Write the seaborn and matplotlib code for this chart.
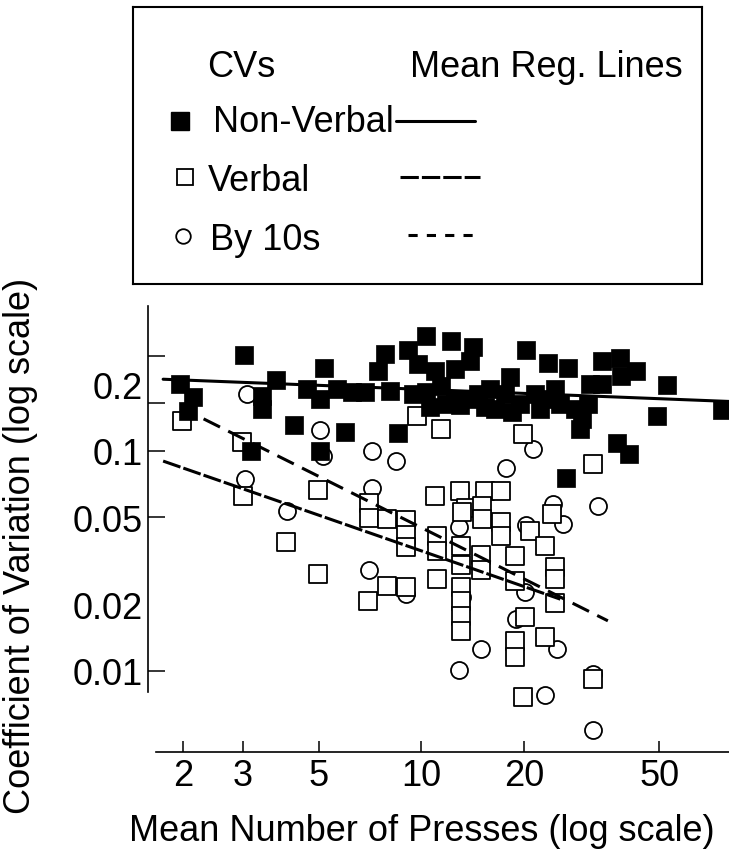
import pandas as pd
import matplotlib
matplotlib.use("Agg")
import matplotlib.pyplot as plt
from matplotlib.ticker import FixedLocator, FixedFormatter, NullLocator
import seaborn as sns

# Values (log-log CV plot)
# Non-Verbal CVs (filled squares)
nv_x = [1.96, 2.14, 2.07, 3.03, 3.16, 3.42, 3.42, 3.76, 4.25, 4.63, 5.06, 5.20, 5.06,
        5.67, 5.99, 6.28, 6.85, 7.48, 7.84, 8.11, 8.57, 9.16, 10.3, 9.8, 11.0, 12.2,
        12.6, 14.2, 13.9, 10.3, 11.4, 12.6, 13.0, 14.7, 15.9, 17.6, 18.2, 20.3, 19.5,
        21.6, 22.3, 23.6, 24.7, 25.6, 27.0, 28.3, 29.7, 31.3, 34.0, 34.0, 38.4, 42.7,
        38.6, 52.6, 49.2, 76.4, 37.6, 40.7, 26.6, 15.4, 18.5,
        9.47, 11.8, 13.9, 16.5, 23.6, 30.9, 29.3, 10.6]
nv_y = [0.202, 0.176, 0.152, 0.273, 0.100, 0.178, 0.155, 0.210, 0.131, 0.191, 0.172,
        0.238, 0.100, 0.191, 0.122, 0.185, 0.185, 0.231, 0.276, 0.187, 0.121, 0.288,
        0.333, 0.248, 0.231, 0.316, 0.236, 0.297, 0.257, 0.185, 0.197, 0.172, 0.162,
        0.182, 0.191, 0.182, 0.217, 0.288, 0.164, 0.182, 0.155, 0.251, 0.191, 0.164,
        0.238, 0.155, 0.140, 0.202, 0.257, 0.202, 0.265, 0.231, 0.219, 0.200, 0.144,
        0.153, 0.109, 0.097, 0.0754, 0.158, 0.150,
        0.182, 0.163, 0.172, 0.155, 0.172, 0.164, 0.126, 0.158]

# Verbal CVs (open squares)
vb_x = [1.99, 2.99, 3.0, 4.99, 4.02, 4.99, 9.73, 11.4, 19.9, 31.9, 11.0, 13.0, 15.4,
        17.1, 7.05, 7.05, 7.95, 9.04, 9.04, 9.04, 11.1, 11.1, 11.1, 7.0, 7.95, 9.04,
        13.5, 15.1, 15.1, 13.1, 13.1, 13.1, 13.1, 13.1, 13.1, 15.0, 15.0, 17.1, 17.1,
        18.9, 18.9, 20.9, 20.2, 18.9, 18.9, 19.9, 23.1, 24.7, 24.7, 24.7, 23.1, 24.2,
        31.9, 13.2]
vb_y = [0.137, 0.110, 0.0624, 0.0665, 0.0385, 0.0276, 0.144, 0.126, 0.119, 0.0873,
        0.0624, 0.0658, 0.0658, 0.0658, 0.058, 0.0496, 0.0491, 0.0486, 0.0415, 0.0366,
        0.0411, 0.0351, 0.0262, 0.0208, 0.0243, 0.0241, 0.0551, 0.0562, 0.0491, 0.037,
        0.0303, 0.0241, 0.0208, 0.0178, 0.0152, 0.0337, 0.0288, 0.0476, 0.0411, 0.0333,
        0.0257, 0.0433, 0.0176, 0.0137, 0.0116, 0.0076, 0.037, 0.0297, 0.0262, 0.0204,
        0.0143, 0.0518, 0.0092, 0.0528]

# By 10s CVs (open circles)
bt_x = [3.09, 5.06, 5.16, 3.05, 4.05, 7.18, 8.45, 7.18, 7.05, 9.04, 12.9, 13.2, 17.7,
        21.3, 24.4, 33.0, 26.1, 20.3, 20.2, 19.0, 15.0, 12.9, 25.1, 23.1, 31.9, 31.9]
bt_y = [0.182, 0.125, 0.095, 0.0746, 0.0534, 0.100, 0.090, 0.068, 0.0288, 0.0224,
        0.0452, 0.0217, 0.0837, 0.102, 0.0574, 0.0562, 0.0466, 0.0461, 0.0229, 0.0172,
        0.0126, 0.0101, 0.0126, 0.0078, 0.0097, 0.0054]

# mean regression lines (end points)
nv_line_x = [1.75, 80.0]
nv_line_y = [0.212, 0.168]
vb_line_x = [1.75, 25.6]
vb_line_y = [0.090, 0.0212]
bt_line_x = [2.30, 35.3]
bt_line_y = [0.140, 0.0169]

x_ticks = [2, 3, 5, 10, 20, 50]
y_ticks = [0.01, 0.05, 0.1, 0.165, 0.27]
y_tick_labels = ['0.01', '0.05', '0.1', '', '']
y_extra = [0.02, 0.2]
y_extra_labels = ['0.02', '0.2']

sns.set_theme(style="white", rc={"axes.edgecolor": "black", "text.color": "black",
                                 "axes.labelcolor": "black", "xtick.color": "black",
                                 "ytick.color": "black"})
plt.rcParams['font.family'] = ['Liberation Sans', 'DejaVu Sans']
FS = 26

fig = plt.figure(figsize=(7.29, 8.54), dpi=100)
ax = fig.add_axes([148 / 729, 101 / 854, 581 / 729, 453 / 854])

ln_style = dict(color='black', linewidth=2.2, ax=ax, legend=False)

sns.scatterplot(x=bt_x, y=bt_y, marker='o', s=150, color='white',
                edgecolor='black', linewidth=1.3, ax=ax, zorder=2)
sns.scatterplot(x=vb_x, y=vb_y, marker='s', s=160, color='white',
                edgecolor='black', linewidth=1.3, ax=ax, zorder=3)
sns.scatterplot(x=nv_x, y=nv_y, marker='s', s=175, color='black',
                edgecolor='black', linewidth=0.5, ax=ax, zorder=4)

sns.lineplot(x=nv_line_x, y=nv_line_y, linestyle='-', zorder=5, **ln_style)
sns.lineplot(x=vb_line_x, y=vb_line_y, linestyle=(0, (6, 1)), zorder=5, **ln_style)
sns.lineplot(x=bt_line_x, y=bt_line_y, linestyle=(0, (6, 3)), zorder=5, **ln_style)

ax.set_xscale('log')
ax.set_yscale('log')
ax.set_xlim(1.58, 80)
ax.set_ylim(0.00428, 0.491)

sns.despine(ax=ax)
for side in ['left', 'bottom']:
    ax.spines[side].set_linewidth(1.2)
ax.spines['left'].set_bounds(0.0080, 0.456)
ax.spines['bottom'].set_bounds(1.67, 80)

ax.xaxis.set_major_locator(FixedLocator(x_ticks))
ax.xaxis.set_major_formatter(FixedFormatter([str(t) for t in x_ticks]))
ax.xaxis.set_minor_locator(NullLocator())
ax.yaxis.set_major_locator(FixedLocator(y_ticks))
ax.yaxis.set_major_formatter(FixedFormatter(y_tick_labels))
ax.yaxis.set_minor_locator(FixedLocator(y_extra))
ax.yaxis.set_minor_formatter(FixedFormatter(y_extra_labels))

ax.tick_params(axis='x', which='major', direction='in', length=8, width=1.1,
               labelsize=FS, pad=4, bottom=True)
ax.tick_params(axis='y', which='major', direction='in', length=12, width=1.1,
               labelsize=FS, pad=4, left=True)
ax.tick_params(axis='y', which='minor', direction='in', length=0,
               labelsize=FS, pad=4, left=True)

ax.set_xlabel('Mean Number of Presses (log scale)', fontsize=FS)
ax.xaxis.set_label_coords(0.472, -0.135)
ax.set_ylabel('Coefficient of Variation (log scale)', fontsize=FS)
ax.yaxis.set_label_coords(-0.19, 0.457)

# legend box drawn as its own little axes
lax = fig.add_axes([133 / 729, (854 - 285) / 854, 569 / 729, 277 / 854])
lax.set_xlim(0, 1)
lax.set_ylim(0, 1)
lax.set_xticks([])
lax.set_yticks([])
for sp in lax.spines.values():
    sp.set_linewidth(1.5)
    sp.set_color('black')

lax.text(0.130, 0.787, 'CVs', fontsize=FS, va='center', ha='left')
lax.text(0.487, 0.787, 'Mean Reg. Lines', fontsize=FS, va='center', ha='left')

lax.plot([0.083], [0.588], marker='s', ms=12.5, color='black', ls='none')
lax.text(0.141, 0.588, 'Non-Verbal', fontsize=FS, va='center', ha='left')
lax.plot([0.462, 0.601], [0.588, 0.588], color='black', lw=2.2)

lax.plot([0.091], [0.386], marker='s', ms=11, mfc='white', mec='black', mew=1.3, ls='none')
lax.text(0.132, 0.372, 'Verbal', fontsize=FS, va='center', ha='left')
lax.plot([0.469, 0.610], [0.386, 0.386], color='black', lw=2.2, ls=(0, (6, 1)))

lax.plot([0.088], [0.173], marker='o', ms=10.5, mfc='white', mec='black', mew=1.3, ls='none')
lax.text(0.135, 0.162, 'By 10s', fontsize=FS, va='center', ha='left')
lax.plot([0.483, 0.610], [0.177, 0.177], color='black', lw=2.2, ls=(0, (3, 3)))

fig.savefig('out.png', dpi=100)
